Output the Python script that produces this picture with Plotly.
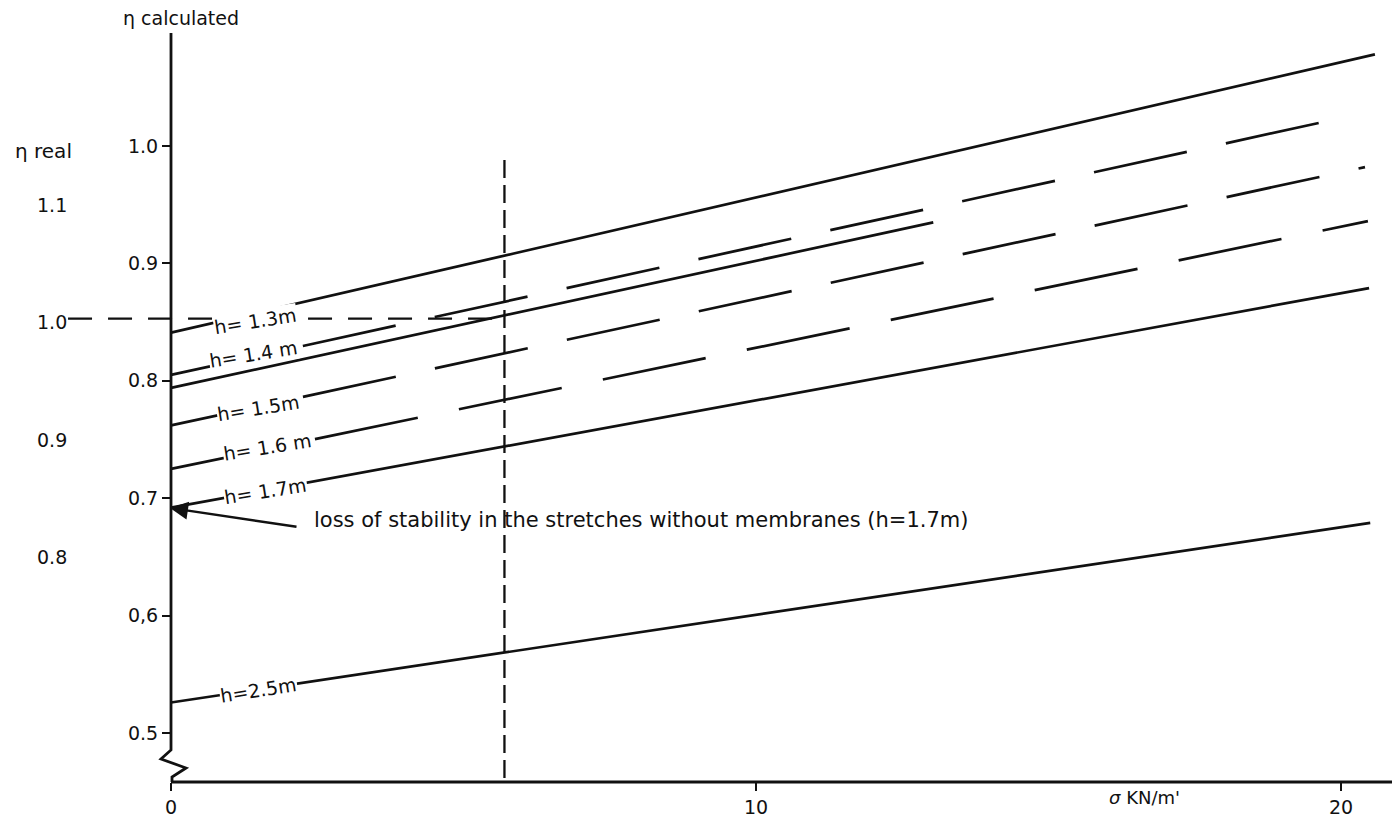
import plotly.graph_objects as go

# ---------------- data ----------------
# sigma [kN/m'] and eta calculated at both ends of every straight line
sigma_h13 = [0.0, 20.58]
eta_h13 = [0.841, 1.078]
sigma_h14 = [0.0, 20.02]
eta_h14 = [0.805, 1.024]
sigma_aux = [0.0, 13.03]
eta_aux = [0.794, 0.935]
sigma_h15 = [0.0, 20.41]
eta_h15 = [0.762, 0.982]
sigma_h16 = [0.0, 20.46]
eta_h16 = [0.725, 0.936]
sigma_h17 = [0.0, 20.48]
eta_h17 = [0.692, 0.879]
sigma_h25 = [0.0, 20.50]
eta_h25 = [0.526, 0.679]

# reference construction (eta real = 1.0)
ref_h_sigma = [-1.76, 5.70]
ref_h_eta = [0.853, 0.853]
ref_v_sigma = [5.70, 5.70]
ref_v_eta = [0.988, 0.4583]

# axes
y_tick_vals = [0.5, 0.6, 0.7, 0.8, 0.9, 1.0]
y_tick_text = ["0.5", "0,6", "0.7", "0.8", "0.9", "1.0"]
x_tick_vals = [0, 10, 20]
x_tick_text = ["0", "10", "20"]
real_tick_vals = [1.1, 1.0, 0.9, 0.8]
real_tick_text = ["1.1", "1.0", "0.9", "0.8"]
real_offset = 0.15  # eta_calc = eta_real - offset

line_labels = ["h= 1.3m", "h= 1.4 m", "h= 1.5m", "h= 1.6 m", "h= 1.7m", "h=2.5m"]

# ---------------- geometry helpers (screen pixel -> data) ----------------
PAGE_OFF = 8  # browser body margin
PX0, PX_PER_UNIT = 171.0, 58.5
PY_ONE, PY_PER_UNIT = 146.0, 1174.0


def sx(px):
    return (px - PX0) / PX_PER_UNIT


def vy(py):
    return 1.0 - (py - PY_ONE) / PY_PER_UNIT


W, H = 1392, 816
PLOT_L, PLOT_R, PLOT_T, PLOT_B = 8, 1395, 33, 782  # screen coords of plot area
ML = PLOT_L - PAGE_OFF
MR = (W + PAGE_OFF) - PLOT_R
MT = PLOT_T - PAGE_OFF
MB = (H + PAGE_OFF) - PLOT_B
x_range = [sx(PLOT_L), sx(PLOT_R)]
y_range = [vy(PLOT_B), vy(PLOT_T)]


def py_paper(py):
    return (PLOT_B - py) / (PLOT_B - PLOT_T)


FONT = "DejaVu Sans"
INK = "#111111"

fig = go.Figure()

series = [
    (sigma_h13, eta_h13, "solid"),
    (sigma_h14, eta_h14, "95px,40px"),
    (sigma_aux, eta_aux, "solid"),
    (sigma_h15, eta_h15, "95px,40px"),
    (sigma_h16, eta_h16, "105px,42px"),
    (sigma_h17, eta_h17, "solid"),
    (sigma_h25, eta_h25, "solid"),
]
for xs, ys, dash in series:
    fig.add_trace(go.Scatter(x=xs, y=ys, mode="lines",
                             line=dict(color=INK, width=2.7, dash=dash),
                             hoverinfo="skip", showlegend=False))

# reference dashed lines
fig.add_trace(go.Scatter(x=ref_h_sigma, y=ref_h_eta, mode="lines",
                         line=dict(color=INK, width=2.3, dash="24px,16px"),
                         hoverinfo="skip", showlegend=False))
fig.add_trace(go.Scatter(x=ref_v_sigma, y=ref_v_eta, mode="lines",
                         line=dict(color=INK, width=2.3, dash="18px,7px"),
                         hoverinfo="skip", showlegend=False))

# axis lines (y axis with break zigzag, x axis starting at the origin)
zig = (f"M {sx(171)} {vy(33)} L {sx(171)} {vy(750)} L {sx(161)} {vy(759)} "
       f"L {sx(186)} {vy(768)} L {sx(172)} {vy(777)} L {sx(172)} {vy(PLOT_B)}")
fig.add_shape(type="path", path=zig, xref="x", yref="y",
              line=dict(color=INK, width=2.8))
fig.add_shape(type="line", xref="x", yref="paper", x0=0, x1=x_range[1],
              y0=0, y1=0, line=dict(color=INK, width=2.8))

# curve labels placed on the lines (white box hides the line behind)
label_px = [(255, 321), (253, 354), (258, 408), (267, 447), (265, 491), (258, 690)]
for text, (px, py) in zip(line_labels, label_px):
    fig.add_annotation(x=sx(px), y=vy(py), xref="x", yref="y", text=text,
                       showarrow=False, textangle=-9, bgcolor="white",
                       borderpad=0,
                       font=dict(family=FONT, size=19, color=INK))

# loss of stability arrow + text
fig.add_annotation(x=sx(170), y=vy(508), xref="x", yref="y", text="",
                   showarrow=True, ax=128, ay=19, arrowhead=2, arrowsize=1.5,
                   arrowwidth=2.4, arrowcolor=INK)
fig.add_annotation(x=sx(312), y=vy(520), xref="x", yref="y",
                   text="loss of stability in the stretches without membranes (h=1.7m)",
                   showarrow=False, xanchor="left",
                   font=dict(family=FONT, size=21, color=INK))

# axis titles (outside the plotting range -> paper y)
fig.add_annotation(x=sx(181), y=py_paper(18), xref="x", yref="paper",
                   xanchor="center", yanchor="middle",
                   text="η calculated", showarrow=False,
                   font=dict(family=FONT, size=19, color=INK))
fig.add_annotation(x=sx(1144), y=py_paper(797), xref="x", yref="paper",
                   xanchor="center", yanchor="middle",
                   text="<i>σ</i> KN/m'", showarrow=False,
                   font=dict(family=FONT, size=18, color=INK))
fig.add_annotation(x=sx(43), y=vy(151), xref="x", yref="y", text="η real",
                   showarrow=False, font=dict(family=FONT, size=20, color=INK))

# eta real scale
for v, t in zip(real_tick_vals, real_tick_text):
    fig.add_annotation(x=sx(52), y=v - real_offset, xref="x", yref="y", text=t,
                       showarrow=False, font=dict(family=FONT, size=19, color=INK))

fig.update_layout(
    width=W, height=H,
    margin=dict(l=ML, r=MR, t=MT, b=MB),
    paper_bgcolor="white", plot_bgcolor="white",
    showlegend=False,
    xaxis=dict(range=x_range, showgrid=False, zeroline=False, showline=False,
               tickmode="array", tickvals=x_tick_vals, ticktext=x_tick_text,
               ticks="outside", ticklen=8, tickwidth=2, tickcolor=INK,
               tickfont=dict(family=FONT, size=19, color=INK)),
    yaxis=dict(range=y_range, showgrid=False, zeroline=False, showline=False,
               anchor="free", position=(PX0 - PLOT_L) / (PLOT_R - PLOT_L),
               tickmode="array", tickvals=y_tick_vals, ticktext=y_tick_text,
               ticks="outside", ticklen=9, tickwidth=2, tickcolor=INK,
               tickfont=dict(family=FONT, size=19, color=INK)),
)

fig.write_html("out.html")
